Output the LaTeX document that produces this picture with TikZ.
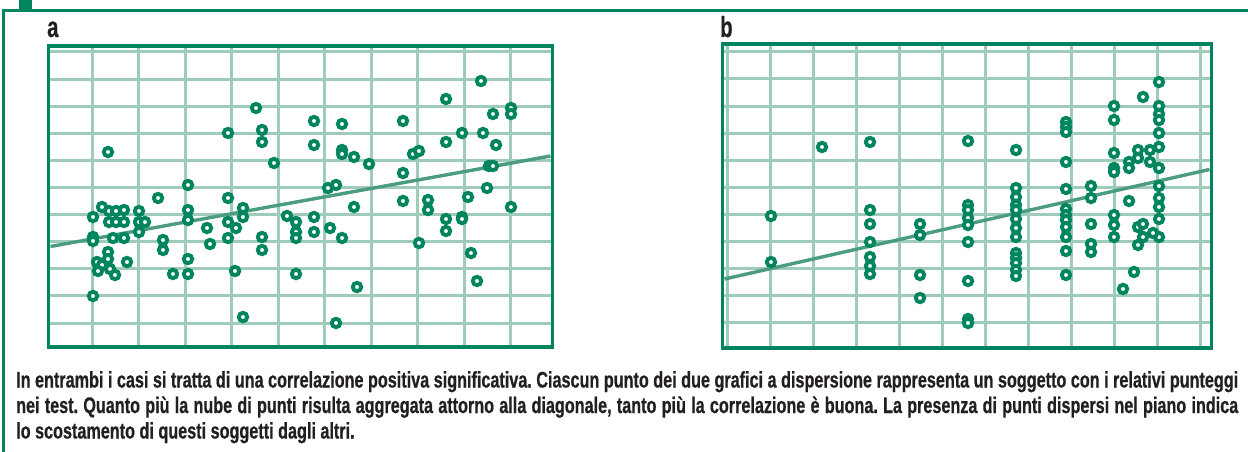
\documentclass[tikz,border=0pt]{standalone}
\usepackage{fontspec}
\setmainfont{Liberation Sans}
\newfontfamily\capfont{Liberation Sans}[FakeStretch=0.72, FakeBold=0.6]
\newfontfamily\labfont{Liberation Sans}[FakeStretch=0.7, FakeBold=0.5]
\usepackage{tikz}
\definecolor{dkgreen}{HTML}{00855F}
\definecolor{ltgreen}{HTML}{9FCBB9}
\definecolor{mdgreen}{HTML}{4C9C7F}
\definecolor{txtgray}{HTML}{231F20}
\tikzstyle{border} = [draw=dkgreen, line width=2.6pt]
\tikzstyle{frame} = [draw=dkgreen, line width=3.6pt]
\tikzstyle{gridline} = [draw=ltgreen, line width=3pt]
\tikzstyle{trend} = [draw=mdgreen, line width=3.4pt]
\tikzstyle{dot} = [draw=dkgreen, fill=white, line width=3.9pt]
\tikzstyle{panel} = [font=\labfont\bfseries\fontsize{29}{29}\selectfont,
    text=txtgray, inner sep=0pt, anchor=base west]
\tikzstyle{caption} = [font=\capfont\bfseries\fontsize{22.5}{25.5}\selectfont\frenchspacing,
    text=txtgray, inner sep=0pt, anchor=north west, text width=1222pt, align=justify]

\begin{document}
\begin{tikzpicture}[x=1pt, y=-1pt]
    \useasboundingbox (0,0) rectangle (1248,452);
    % Outer border
    \fill [dkgreen] (19,0) rectangle (32,10);
    \draw [border] (3.5,452) -- (3.5,10.5) -- (1248,10.5);
    % Panel labels
    \node [panel] (la) at (47,37) {a};
    \node [panel] (lb) at (720,37) {b};
    % Grid a
    \foreach \k in {0,...,10}
        \draw [gridline] (48.5,52+27.1*\k) -- (552.5,52+27.1*\k);
    \foreach \k in {0,...,9}
        \draw [gridline] (92+46.5*\k,46) -- (92+46.5*\k,347);
    \draw [frame] (48.5,46) rectangle (552.5,347);
    % Grid b
    \foreach \k in {0,...,10}
        \draw [gridline] (722.5,52+27*\k) -- (1211.5,52+27*\k);
    \foreach \k in {0,...,11}
        \draw [gridline] (727+43*\k,44) -- (727+43*\k,348);
    \draw [frame] (722.5,44) rectangle (1211.5,348);
    % Trend lines
    \coordinate (a0) at (50.5,246.5);
    \coordinate (a1) at (550.5,156);
    \coordinate (b0) at (724.5,279);
    \coordinate (b1) at (1209.5,169.5);
    \draw [trend] (a0) -- (a1);
    \draw [trend] (b0) -- (b1);
    % Points a
    \foreach \x/\y in {108/152, 256/108, 228/133, 262/130, 262/142, 274/163, 314/121, 314/145,
        188/185, 158/198, 228/198, 328/188, 336/185,
        102/207, 109/211, 116/211, 124/210, 139/211, 93/217,
        109/222, 116/222, 124/222, 139/222, 145/222, 139/232,
        93/237, 93/241, 113/238, 124/238,
        188/210, 188/220, 207/228, 210/244, 228/222, 236/228, 228/238, 243/208, 243/217,
        163/240, 163/250, 188/259, 108/252, 108/259,
        97/262, 102/265, 98/271, 110/269, 115/275, 127/262,
        173/274, 188/274, 235/271, 262/237, 262/250,
        287/216, 296/222, 296/232, 296/238, 314/217, 314/232, 330/228, 342/238, 296/274,
        93/296, 243/317, 336/323, 354/207,
        481/81, 446/99, 511/108, 511/114, 493/114, 342/124, 403/121, 462/133, 483/133,
        446/142, 496/145, 342/150, 342/154, 354/157, 369/164, 413/154, 419/151, 403/173,
        489/166, 493/166, 487/188, 468/197, 403/201, 428/200, 428/210, 511/207,
        446/219, 446/231, 462/217, 462/219, 419/243, 471/253, 357/287, 477/281}
        \draw [dot] (\x,\y) circle (4.2pt);
    % Points b
    \foreach \x/\y in {822/147, 870/142, 968/141, 771/216, 771/262,
        870/210, 870/224, 870/242, 870/257, 870/266, 870/274,
        920/224, 920/235, 920/275, 920/298,
        968/205, 968/210, 968/218, 968/225, 968/242, 968/281, 968/319, 968/323,
        1016/150, 1016/188, 1016/197, 1016/205, 1016/210, 1016/219, 1016/228, 1016/237,
        1016/253, 1016/258, 1016/263, 1016/270, 1016/276,
        1066/122, 1066/127, 1066/132, 1066/162, 1066/189, 1066/209, 1066/215, 1066/220,
        1066/227, 1066/237, 1066/251, 1066/275,
        1091/186, 1091/198, 1091/224, 1091/244, 1091/252,
        1114/106, 1114/120, 1114/153, 1114/168, 1114/172, 1114/215, 1114/225, 1114/237,
        1129/162, 1129/168, 1138/150, 1138/158, 1150/150, 1150/162, 1143/97, 1129/201,
        1159/82, 1159/106, 1159/114, 1159/120, 1159/133, 1159/147, 1159/168, 1159/186,
        1159/198, 1159/207, 1159/219, 1159/237,
        1138/227, 1143/224, 1143/237, 1153/233, 1138/245, 1134/272, 1123/289}
        \draw [dot] (\x,\y) circle (4.2pt);
    % Caption
    \node [caption] (note) at (16,371) {In entrambi i casi si tratta di una correlazione positiva significativa. Ciascun punto dei due grafici a dispersione rappresenta un soggetto con i relativi punteggi\linebreak
        nei test. Quanto più la nube di punti risulta aggregata attorno alla diagonale, tanto più la correlazione è buona. La presenza di punti dispersi nel piano indica\linebreak
        lo scostamento di questi soggetti dagli altri.};
\end{tikzpicture}
\end{document}
